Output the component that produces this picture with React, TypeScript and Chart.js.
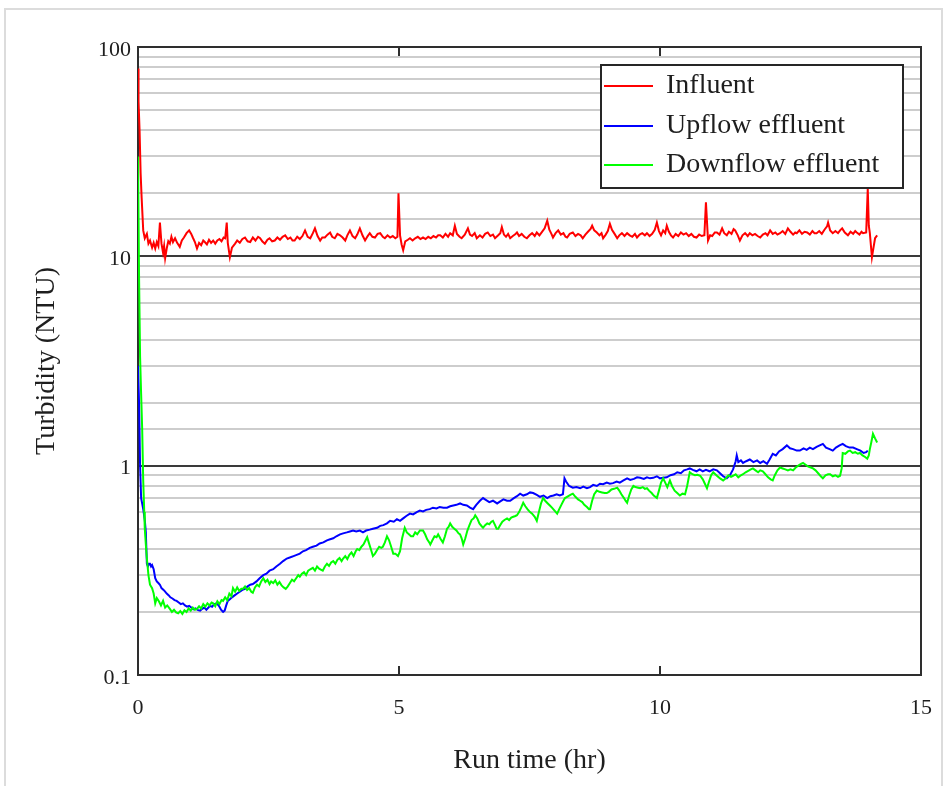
import React, { useEffect, useRef } from 'react';
import { Chart, registerables } from 'chart.js';

Chart.register(...registerables);

const seriesNames = ['Influent', 'Upflow effluent', 'Downflow effluent'];
const seriesColors = ['#ff0000', '#0000ff', '#00ff00'];
const xTitle = 'Run time (hr)';
const yTitle = 'Turbidity (NTU)';
const xTickMarks = [5, 10];
const yLabelledTicks = [0.1, 1, 10, 100];

const influentTime = [
  0, 0.01, 0.03, 0.05, 0.07, 0.1, 0.13, 0.17, 0.2, 0.23, 0.27, 0.3, 0.33, 0.36, 0.39, 0.42, 0.45, 0.48, 0.5, 0.52,
  0.55, 0.58, 0.61, 0.64, 0.67, 0.71, 0.75, 0.8, 0.84, 0.88, 0.93, 0.98, 1.02, 1.05, 1.09, 1.13, 1.17, 1.21, 1.25, 1.28,
  1.32, 1.36, 1.4, 1.44, 1.48, 1.52, 1.56, 1.6, 1.64, 1.67, 1.7, 1.72, 1.76, 1.8, 1.86, 1.9, 1.95, 2.0, 2.05, 2.1,
  2.15, 2.2, 2.25, 2.3, 2.34, 2.38, 2.43, 2.48, 2.52, 2.57, 2.62, 2.67, 2.72, 2.77, 2.82, 2.87, 2.92, 2.96, 3.0, 3.05,
  3.1, 3.15, 3.2, 3.25, 3.3, 3.35, 3.39, 3.44, 3.49, 3.53, 3.58, 3.63, 3.68, 3.72, 3.77, 3.82, 3.87, 3.92, 3.97, 4.01,
  4.06, 4.11, 4.16, 4.2, 4.25, 4.3, 4.35, 4.4, 4.44, 4.49, 4.54, 4.59, 4.64, 4.69, 4.73, 4.78, 4.83, 4.88, 4.93, 4.97,
  4.99, 5.02, 5.05, 5.08, 5.12, 5.17, 5.21, 5.26, 5.31, 5.36, 5.41, 5.46, 5.51, 5.56, 5.61, 5.66, 5.71, 5.75, 5.79, 5.84,
  5.89, 5.94, 5.98, 6.03, 6.07, 6.11, 6.16, 6.2, 6.26, 6.32, 6.36, 6.4, 6.45, 6.49, 6.55, 6.6, 6.65, 6.7, 6.75, 6.8,
  6.84, 6.9, 6.94, 6.97, 7.01, 7.05, 7.09, 7.13, 7.18, 7.22, 7.26, 7.3, 7.35, 7.4, 7.45, 7.5, 7.55, 7.6, 7.64, 7.69,
  7.74, 7.79, 7.84, 7.88, 7.92, 7.95, 8.0, 8.05, 8.1, 8.15, 8.19, 8.22, 8.27, 8.33, 8.38, 8.43, 8.48, 8.52, 8.57, 8.62,
  8.67, 8.7, 8.74, 8.79, 8.84, 8.88, 8.91, 8.96, 9.0, 9.04, 9.08, 9.13, 9.18, 9.22, 9.27, 9.32, 9.37, 9.42, 9.47, 9.52,
  9.56, 9.61, 9.66, 9.71, 9.75, 9.8, 9.85, 9.9, 9.94, 9.98, 10.02, 10.06, 10.1, 10.13, 10.17, 10.21, 10.25, 10.3, 10.35, 10.4,
  10.45, 10.5, 10.55, 10.6, 10.65, 10.7, 10.75, 10.8, 10.85, 10.88, 10.92, 10.96, 11.0, 11.05, 11.09, 11.14, 11.19, 11.23, 11.28, 11.32,
  11.37, 11.41, 11.44, 11.49, 11.53, 11.58, 11.63, 11.68, 11.72, 11.77, 11.82, 11.87, 11.92, 11.97, 12.02, 12.06, 12.11, 12.16, 12.21, 12.25,
  12.3, 12.35, 12.4, 12.45, 12.5, 12.55, 12.59, 12.62, 12.67, 12.72, 12.77, 12.82, 12.87, 12.92, 12.96, 13.0, 13.05, 13.1, 13.15, 13.2,
  13.22, 13.26, 13.31, 13.36, 13.41, 13.45, 13.49, 13.54, 13.6, 13.65, 13.7, 13.74, 13.77, 13.82, 13.86, 13.89, 13.95, 13.98, 14.0, 14.02,
  14.06, 14.09, 14.12, 14.16,
];
const influentNTU = [
  79, 55, 40, 25, 19, 13.3, 12.2, 12.8, 11.5, 11.9, 11.0, 11.6, 10.9, 11.7, 11.2, 14.5, 11.5, 10.4, 11.2, 9.8,
  10.9, 11.8, 11.5, 12.4, 11.7, 12.2, 11.6, 11.1, 11.9, 12.3, 12.9, 13.3, 12.8, 12.3, 11.7, 10.9, 11.6, 11.3, 11.9, 11.7,
  11.4, 12.0, 11.6, 11.9, 11.5, 11.9, 12.1, 11.8, 12.3, 12.2, 14.5, 11.6, 9.9, 11.0, 11.5, 11.9, 11.6, 12.1, 12.3, 11.8,
  11.7, 12.3, 11.9, 12.4, 12.2, 11.8, 11.5, 12.0, 12.2, 11.8, 11.9, 12.3, 12.0, 12.4, 12.6, 12.1, 12.3, 11.9, 11.9, 12.4,
  12.1, 12.5, 13.3, 12.4, 12.2, 12.9, 13.6, 12.5, 11.9, 12.3, 12.3, 12.7, 13.0, 12.4, 12.2, 12.8, 12.6, 12.3, 11.9, 12.6,
  13.3, 12.5, 12.2, 12.7, 13.6, 12.6, 11.9, 12.5, 12.9, 12.4, 12.3, 12.8, 12.9, 12.4, 12.2, 12.6, 12.3, 12.5, 12.2, 12.4,
  20, 12.6, 11.4, 10.7, 11.8, 12.0, 12.2, 11.9, 12.2, 12.4, 12.1, 12.3, 12.1, 12.4, 12.2, 12.5, 12.3, 12.6, 12.6, 12.3,
  12.8, 12.4, 12.9, 12.6, 14.0, 12.8, 12.4, 12.2, 12.7, 13.6, 12.7, 12.5, 12.9, 12.2, 12.6, 12.3, 12.8, 13.0, 12.5, 12.7,
  12.2, 12.6, 12.9, 13.8, 12.7, 12.4, 12.8, 12.2, 12.5, 12.7, 13.0, 12.5, 12.8, 12.4, 12.2, 12.6, 12.9, 12.5, 13.0, 12.6,
  13.1, 13.6, 14.8, 13.4, 12.8, 12.3, 12.9, 13.3, 12.7, 12.9, 12.4, 12.3, 12.8, 13.0, 12.5, 12.8, 12.6, 12.2, 12.7, 13.1,
  13.5, 14.0, 13.3, 13.0, 12.6, 12.9, 12.2, 12.7, 13.2, 14.3, 13.4, 12.8, 12.2, 12.6, 12.9, 12.5, 12.9, 12.6, 12.4, 12.8,
  12.3, 12.7, 12.9, 12.6, 12.9, 12.5, 12.8, 13.4, 14.5, 13.2, 12.6, 13.3, 12.9, 14.0, 13.1, 12.6, 12.3, 12.8, 12.5, 13.0,
  12.7, 12.9, 12.5, 12.8, 12.4, 12.3, 12.7, 12.5, 12.6, 18.1, 11.9, 12.6, 12.5, 13.0, 13.0, 12.7, 13.6, 12.9, 12.6, 13.1,
  12.8, 13.5, 13.3, 12.6, 11.9, 12.6, 12.9, 12.5, 12.9, 12.6, 12.8, 12.5, 12.3, 12.7, 12.9, 12.6, 13.3, 12.8, 13.0, 12.7,
  12.9, 13.2, 12.8, 13.6, 13.1, 12.7, 13.0, 12.9, 13.3, 12.8, 13.1, 13.0, 12.7, 13.2, 12.9, 12.9, 13.2, 12.8, 13.4, 13.9,
  14.5, 13.3, 12.9, 13.2, 12.9, 13.3, 13.6, 13.0, 12.6, 13.1, 12.8, 13.2, 13.0, 12.7, 13.1, 12.9, 13.0, 21, 14.0, 12.9,
  9.9, 11.0, 12.2, 12.6,
];

const upflowTime = [
  0, 0.02, 0.04, 0.06, 0.08, 0.1, 0.13, 0.15, 0.17, 0.19, 0.21, 0.23, 0.25, 0.27, 0.3, 0.33, 0.36, 0.39, 0.42, 0.45,
  0.49, 0.52, 0.55, 0.59, 0.62, 0.66, 0.7, 0.74, 0.78, 0.82, 0.86, 0.9, 0.94, 0.98, 1.02, 1.06, 1.1, 1.15, 1.19, 1.23,
  1.27, 1.31, 1.35, 1.38, 1.42, 1.46, 1.51, 1.55, 1.59, 1.63, 1.66, 1.69, 1.72, 1.76, 1.8, 1.85, 1.9, 1.95, 2.0, 2.05,
  2.1, 2.15, 2.2, 2.27, 2.33, 2.4, 2.46, 2.52, 2.59, 2.65, 2.72, 2.78, 2.85, 2.92, 2.98, 3.04, 3.1, 3.16, 3.22, 3.29,
  3.35, 3.42, 3.48, 3.55, 3.62, 3.68, 3.74, 3.8, 3.87, 3.93, 4.0, 4.06, 4.12, 4.18, 4.25, 4.31, 4.37, 4.44, 4.5, 4.58,
  4.64, 4.7, 4.77, 4.83, 4.9, 4.96, 5.02, 5.08, 5.14, 5.21, 5.27, 5.34, 5.4, 5.46, 5.52, 5.59, 5.65, 5.72, 5.78, 5.85,
  5.92, 5.98, 6.04, 6.1, 6.17, 6.23, 6.3, 6.36, 6.42, 6.48, 6.55, 6.61, 6.67, 6.73, 6.8, 6.88, 6.94, 7.0, 7.07, 7.13,
  7.2, 7.26, 7.32, 7.38, 7.45, 7.51, 7.57, 7.64, 7.7, 7.77, 7.84, 7.9, 7.96, 8.02, 8.08, 8.14, 8.17, 8.2, 8.26, 8.33,
  8.4, 8.47, 8.53, 8.6, 8.66, 8.72, 8.79, 8.85, 8.91, 8.98, 9.04, 9.1, 9.17, 9.23, 9.3, 9.37, 9.43, 9.5, 9.56, 9.62,
  9.69, 9.75, 9.81, 9.87, 9.94, 10.0, 10.06, 10.13, 10.2, 10.27, 10.33, 10.4, 10.46, 10.52, 10.57, 10.63, 10.7, 10.76, 10.82, 10.88,
  10.95, 11.02, 11.09, 11.15, 11.21, 11.28, 11.34, 11.4, 11.45, 11.47, 11.5, 11.55, 11.59, 11.65, 11.72, 11.79, 11.86, 11.92, 11.98, 12.05,
  12.1, 12.16, 12.22, 12.28, 12.35, 12.43, 12.49, 12.55, 12.62, 12.68, 12.75, 12.81, 12.87, 12.93, 13.0, 13.06, 13.12, 13.18, 13.25, 13.31,
  13.37, 13.44, 13.5, 13.56, 13.63, 13.7, 13.77, 13.84, 13.9, 13.95, 13.98,
];
const upflowNTU = [
  3.0, 2.0, 1.0, 0.7, 0.66, 0.62, 0.55, 0.48, 0.34, 0.33, 0.34, 0.34, 0.33, 0.335, 0.32, 0.29, 0.28, 0.275, 0.27, 0.26,
  0.255, 0.25, 0.245, 0.24, 0.235, 0.232, 0.228, 0.226, 0.222, 0.218, 0.22, 0.215, 0.212, 0.214, 0.21, 0.206, 0.208, 0.204, 0.203, 0.207,
  0.21, 0.205, 0.21, 0.214, 0.212, 0.218, 0.22, 0.214, 0.205, 0.2, 0.203, 0.215, 0.226, 0.23, 0.235, 0.24, 0.245, 0.25, 0.255, 0.258,
  0.265, 0.27, 0.272, 0.28, 0.29, 0.3, 0.305, 0.315, 0.32, 0.33, 0.34, 0.35, 0.36, 0.365, 0.37, 0.375, 0.38, 0.39, 0.395, 0.405,
  0.41, 0.415, 0.425, 0.43, 0.44, 0.445, 0.45, 0.46, 0.47, 0.475, 0.48, 0.485, 0.49, 0.485, 0.49, 0.48, 0.49, 0.495, 0.5, 0.505,
  0.516, 0.52, 0.53, 0.545, 0.54, 0.555, 0.545, 0.56, 0.575, 0.59, 0.585, 0.6, 0.61, 0.605, 0.615, 0.62, 0.63, 0.625, 0.635, 0.63,
  0.63, 0.64, 0.645, 0.65, 0.66, 0.65, 0.645, 0.63, 0.62, 0.65, 0.68, 0.7, 0.685, 0.67, 0.68, 0.66, 0.675, 0.69, 0.68, 0.68,
  0.7, 0.715, 0.735, 0.72, 0.73, 0.745, 0.74, 0.725, 0.71, 0.72, 0.7, 0.715, 0.72, 0.73, 0.72, 0.73, 0.87, 0.84, 0.8, 0.785,
  0.79, 0.78, 0.795, 0.78, 0.79, 0.81, 0.8, 0.82, 0.815, 0.83, 0.82, 0.825, 0.84, 0.83, 0.85, 0.87, 0.855, 0.865, 0.88, 0.875,
  0.865, 0.88, 0.87, 0.875, 0.89, 0.87, 0.875, 0.88, 0.9, 0.91, 0.93, 0.92, 0.95, 0.96, 0.97, 0.955, 0.94, 0.96, 0.94, 0.955,
  0.94, 0.96, 0.95, 0.92, 0.89, 0.87, 0.9, 0.96, 1.05, 1.12, 1.04, 1.06, 1.03, 1.05, 1.07, 1.04, 1.06, 1.03, 1.05, 1.02,
  1.07, 1.14, 1.12, 1.17, 1.2, 1.25, 1.21, 1.2, 1.18, 1.18, 1.21, 1.19, 1.22, 1.2, 1.23, 1.25, 1.27, 1.22, 1.2, 1.18,
  1.22, 1.25, 1.27, 1.24, 1.22, 1.22, 1.2, 1.18, 1.15, 1.16, 1.18,
];

const downflowTime = [
  0, 0.02, 0.04, 0.06, 0.08, 0.1, 0.12, 0.13, 0.15, 0.17, 0.2, 0.23, 0.27, 0.3, 0.33, 0.36, 0.4, 0.44, 0.48, 0.52,
  0.56, 0.61, 0.65, 0.69, 0.73, 0.77, 0.81, 0.85, 0.89, 0.93, 0.97, 1.01, 1.05, 1.09, 1.13, 1.17, 1.21, 1.25, 1.29, 1.33,
  1.37, 1.41, 1.44, 1.48, 1.52, 1.56, 1.6, 1.63, 1.67, 1.71, 1.75, 1.79, 1.82, 1.86, 1.9, 1.94, 1.98, 2.01, 2.05, 2.09,
  2.13, 2.17, 2.2, 2.24, 2.28, 2.32, 2.36, 2.4, 2.44, 2.48, 2.52, 2.55, 2.59, 2.63, 2.67, 2.71, 2.75, 2.79, 2.83, 2.87,
  2.91, 2.95, 2.99, 3.03, 3.07, 3.1, 3.14, 3.18, 3.22, 3.26, 3.3, 3.35, 3.39, 3.43, 3.47, 3.51, 3.54, 3.58, 3.62, 3.66,
  3.7, 3.74, 3.78, 3.82, 3.86, 3.9, 3.93, 3.97, 4.01, 4.05, 4.09, 4.13, 4.17, 4.2, 4.24, 4.28, 4.32, 4.36, 4.39, 4.42,
  4.46, 4.5, 4.54, 4.58, 4.62, 4.66, 4.69, 4.73, 4.77, 4.81, 4.85, 4.89, 4.93, 4.98, 5.02, 5.06, 5.11, 5.15, 5.19, 5.23,
  5.27, 5.31, 5.35, 5.4, 5.46, 5.5, 5.54, 5.58, 5.6, 5.64, 5.68, 5.72, 5.75, 5.8, 5.84, 5.88, 5.92, 5.95, 5.98, 6.02,
  6.06, 6.1, 6.14, 6.17, 6.2, 6.23, 6.27, 6.31, 6.35, 6.39, 6.43, 6.46, 6.5, 6.54, 6.58, 6.61, 6.65, 6.69, 6.73, 6.77,
  6.8, 6.84, 6.87, 6.9, 6.94, 6.98, 7.02, 7.07, 7.11, 7.15, 7.19, 7.23, 7.26, 7.3, 7.34, 7.38, 7.42, 7.46, 7.51, 7.55,
  7.6, 7.64, 7.68, 7.72, 7.76, 7.8, 7.85, 7.89, 7.93, 7.98, 8.03, 8.07, 8.11, 8.15, 8.18, 8.22, 8.26, 8.3, 8.33, 8.38,
  8.43, 8.47, 8.51, 8.55, 8.6, 8.64, 8.66, 8.7, 8.74, 8.79, 8.84, 8.89, 8.94, 8.98, 9.02, 9.07, 9.12, 9.18, 9.22, 9.26,
  9.31, 9.34, 9.37, 9.41, 9.45, 9.49, 9.53, 9.58, 9.62, 9.67, 9.71, 9.75, 9.79, 9.84, 9.88, 9.91, 9.94, 9.98, 10.02, 10.06,
  10.1, 10.14, 10.19, 10.23, 10.28, 10.33, 10.38, 10.43, 10.48, 10.52, 10.57, 10.62, 10.67, 10.72, 10.77, 10.82, 10.86, 10.9, 10.94, 10.98,
  11.02, 11.06, 11.1, 11.15, 11.21, 11.26, 11.31, 11.36, 11.4, 11.45, 11.5, 11.55, 11.59, 11.64, 11.69, 11.74, 11.78, 11.83, 11.88, 11.92,
  11.97, 12.02, 12.07, 12.12, 12.16, 12.2, 12.25, 12.3, 12.35, 12.4, 12.45, 12.5, 12.55, 12.6, 12.65, 12.7, 12.74, 12.79, 12.84, 12.89,
  12.93, 12.98, 13.03, 13.08, 13.12, 13.17, 13.22, 13.26, 13.31, 13.36, 13.41, 13.45, 13.48, 13.5, 13.55, 13.6, 13.64, 13.69, 13.74, 13.79,
  13.83, 13.88, 13.93, 13.97, 14.0, 14.02, 14.05, 14.08, 14.12, 14.16,
];
const downflowNTU = [
  30, 8, 3.3, 2.2, 1.5, 0.85, 0.6, 0.5, 0.42, 0.36, 0.3, 0.27, 0.26, 0.245, 0.22, 0.233, 0.225, 0.215, 0.226, 0.21,
  0.215, 0.207, 0.2, 0.205, 0.199, 0.197, 0.202, 0.196, 0.204, 0.2, 0.208, 0.203, 0.21, 0.205, 0.207, 0.213, 0.208, 0.218, 0.212, 0.22,
  0.215, 0.222, 0.22, 0.213, 0.225, 0.218, 0.228, 0.226, 0.235, 0.228, 0.245, 0.238, 0.26, 0.25, 0.262, 0.252, 0.258, 0.258, 0.265, 0.255,
  0.26, 0.25, 0.247, 0.262, 0.27, 0.265, 0.28, 0.29, 0.278, 0.285, 0.272, 0.28, 0.275, 0.283, 0.27, 0.278, 0.268, 0.262, 0.258, 0.265,
  0.275, 0.285, 0.28, 0.29, 0.3, 0.295, 0.305, 0.31, 0.3, 0.315, 0.32, 0.325, 0.315, 0.33, 0.322, 0.318, 0.315, 0.33, 0.34, 0.332,
  0.345, 0.35, 0.34, 0.355, 0.362, 0.35, 0.36, 0.37, 0.358, 0.375, 0.385, 0.37, 0.39, 0.4, 0.395, 0.41, 0.42, 0.44, 0.455, 0.43,
  0.4, 0.37, 0.38, 0.395, 0.41, 0.405, 0.41, 0.43, 0.46, 0.44, 0.41, 0.38, 0.38, 0.37, 0.39, 0.45, 0.505, 0.48, 0.47, 0.46,
  0.46, 0.48, 0.47, 0.49, 0.49, 0.47, 0.445, 0.43, 0.42, 0.44, 0.46, 0.455, 0.47, 0.445, 0.43, 0.46, 0.5, 0.51, 0.53, 0.51,
  0.5, 0.49, 0.475, 0.47, 0.45, 0.42, 0.45, 0.49, 0.52, 0.55, 0.56, 0.58, 0.56, 0.53, 0.515, 0.505, 0.52, 0.53, 0.525, 0.54,
  0.545, 0.52, 0.5, 0.5, 0.52, 0.54, 0.55, 0.56, 0.55, 0.565, 0.57, 0.575, 0.58, 0.6, 0.63, 0.665, 0.64, 0.62, 0.6, 0.59,
  0.57, 0.545, 0.6, 0.66, 0.7, 0.68, 0.66, 0.645, 0.63, 0.61, 0.59, 0.62, 0.65, 0.68, 0.7, 0.71, 0.72, 0.73, 0.735, 0.71,
  0.69, 0.68, 0.67, 0.65, 0.635, 0.62, 0.62, 0.68, 0.73, 0.76, 0.75, 0.745, 0.74, 0.74, 0.75, 0.77, 0.775, 0.785, 0.76, 0.73,
  0.7, 0.68, 0.665, 0.72, 0.77, 0.8, 0.79, 0.785, 0.78, 0.79, 0.775, 0.78, 0.76, 0.74, 0.72, 0.71, 0.7, 0.76, 0.83, 0.87,
  0.83, 0.79, 0.85, 0.8, 0.76, 0.74, 0.72, 0.735, 0.73, 0.8, 0.93, 0.91, 0.9, 0.905, 0.895, 0.86, 0.82, 0.78, 0.84, 0.9,
  0.93, 0.91, 0.89, 0.87, 0.85, 0.87, 0.9, 0.885, 0.895, 0.91, 0.88, 0.9, 0.91, 0.93, 0.945, 0.96, 0.97, 0.95, 0.93, 0.95,
  0.94, 0.91, 0.88, 0.86, 0.85, 0.9, 0.95, 0.98, 0.97, 0.96, 0.95, 0.96, 0.95, 0.98, 1.0, 1.02, 1.03, 1.01, 0.99, 0.98,
  0.97, 0.95, 0.92, 0.89, 0.87, 0.9, 0.91, 0.91, 0.89, 0.9, 0.885, 0.895, 0.97, 1.15, 1.14, 1.17, 1.18, 1.15, 1.16, 1.14,
  1.15, 1.12, 1.1, 1.08, 1.12, 1.2, 1.3, 1.42, 1.35, 1.29,
];

const FONT = "'Liberation Serif', 'Times New Roman', serif";
const TEXT = '#1e1e1e';

function toPoints(t: number[], v: number[]) {
  return t.map((x, i) => ({ x, y: v[i] }));
}

export default function App() {
  const ref = useRef<HTMLCanvasElement>(null);

  useEffect(() => {
    if (!ref.current) return;

    const decorations = {
      id: 'decorations',
      beforeDraw(chart: any) {
        const c = chart.ctx;
        c.save();
        c.fillStyle = '#ffffff';
        c.fillRect(0, 0, chart.width, chart.height);
        c.strokeStyle = '#dcdcdc';
        c.lineWidth = 2;
        c.strokeRect(5, 9, 937, 800);
        c.restore();
      },
      beforeDatasetsDraw(chart: any) {
        const c = chart.ctx;
        const a = chart.chartArea;
        const xs = chart.scales.x;
        c.save();
        c.strokeStyle = '#2e2e2e';
        c.lineWidth = 2;
        c.strokeRect(a.left, a.top, a.right - a.left, a.bottom - a.top);
        xTickMarks.forEach((v) => {
          const px = Math.round(xs.getPixelForValue(v));
          c.beginPath();
          c.moveTo(px, a.bottom);
          c.lineTo(px, a.bottom - 9);
          c.moveTo(px, a.top);
          c.lineTo(px, a.top + 9);
          c.stroke();
        });
        c.restore();
      },
      afterDatasetsDraw(chart: any) {
        const c = chart.ctx;
        c.save();
        const bx = 601, by = 65, bw = 302, bh = 123;
        c.fillStyle = '#ffffff';
        c.fillRect(bx, by, bw, bh);
        c.strokeStyle = '#262626';
        c.lineWidth = 2;
        c.strokeRect(bx, by, bw, bh);
        c.font = `28px ${FONT}`;
        c.textBaseline = 'middle';
        c.textAlign = 'left';
        const rows = [86, 126, 165];
        seriesNames.forEach((name, i) => {
          c.strokeStyle = seriesColors[i];
          c.lineWidth = 2;
          c.beginPath();
          c.moveTo(604, rows[i]);
          c.lineTo(653, rows[i]);
          c.stroke();
          c.fillStyle = TEXT;
          c.fillText(name, 666, rows[i]);
        });
        c.restore();
      },
    };

    const isDecade = (v: number) => {
      const l = Math.log10(v);
      return Math.abs(l - Math.round(l)) < 1e-6;
    };

    const chart = new Chart(ref.current, {
      type: 'line',
      data: {
        datasets: [
          { label: seriesNames[0], data: toPoints(influentTime, influentNTU), borderColor: seriesColors[0], order: 2 },
          { label: seriesNames[1], data: toPoints(upflowTime, upflowNTU), borderColor: seriesColors[1], order: 1 },
          { label: seriesNames[2], data: toPoints(downflowTime, downflowNTU), borderColor: seriesColors[2], order: 0 },
        ].map((d) => ({ ...d, borderWidth: 2, pointRadius: 0, tension: 0, fill: false })),
      },
      options: {
        responsive: false,
        animation: false,
        devicePixelRatio: 1,
        layout: { padding: { left: 0, top: 47, right: 27, bottom: 0 } },
        plugins: { legend: { display: false }, tooltip: { enabled: false } },
        scales: {
          x: {
            type: 'linear',
            min: 0,
            max: 15,
            afterFit: (s: any) => { s.height = 111; },
            grid: { display: false },
            border: { display: false },
            ticks: {
              stepSize: 5,
              padding: 12,
              color: TEXT,
              font: { family: FONT, size: 22 },
              maxRotation: 0,
            },
            title: {
              display: true,
              text: xTitle,
              color: TEXT,
              font: { family: FONT, size: 28 },
              padding: { top: 0, bottom: 9 },
            },
          },
          y: {
            type: 'logarithmic',
            min: 0.1,
            max: 100,
            afterFit: (s: any) => { s.width = 138; },
            border: { display: false },
            grid: {
              drawTicks: false,
              lineWidth: 2,
              color: (ctx: any) => {
                const v = ctx.tick ? ctx.tick.value : 0;
                return isDecade(v) ? '#3a3a3a' : '#cdcdcd';
              },
            },
            ticks: {
              autoSkip: false,
              padding: 7,
              labelOffset: 3,
              color: TEXT,
              font: { family: FONT, size: 22 },
              callback: (value: any) => {
                const v = Number(value);
                const hit = yLabelledTicks.find((t) => Math.abs(t - v) < 1e-9);
                return hit !== undefined ? String(hit) : '';
              },
            },
            title: {
              display: true,
              text: yTitle,
              color: TEXT,
              font: { family: FONT, size: 28 },
              padding: { top: 30, bottom: 0 },
            },
          },
        },
      },
      plugins: [decorations],
    } as any);

    return () => chart.destroy();
  }, []);

  return (
    <div style={{ position: 'absolute', left: 0, top: 0, width: 948, height: 786, background: '#fff' }}>
      <canvas ref={ref} width={948} height={786} style={{ display: 'block', width: 948, height: 786 }} />
    </div>
  );
}
